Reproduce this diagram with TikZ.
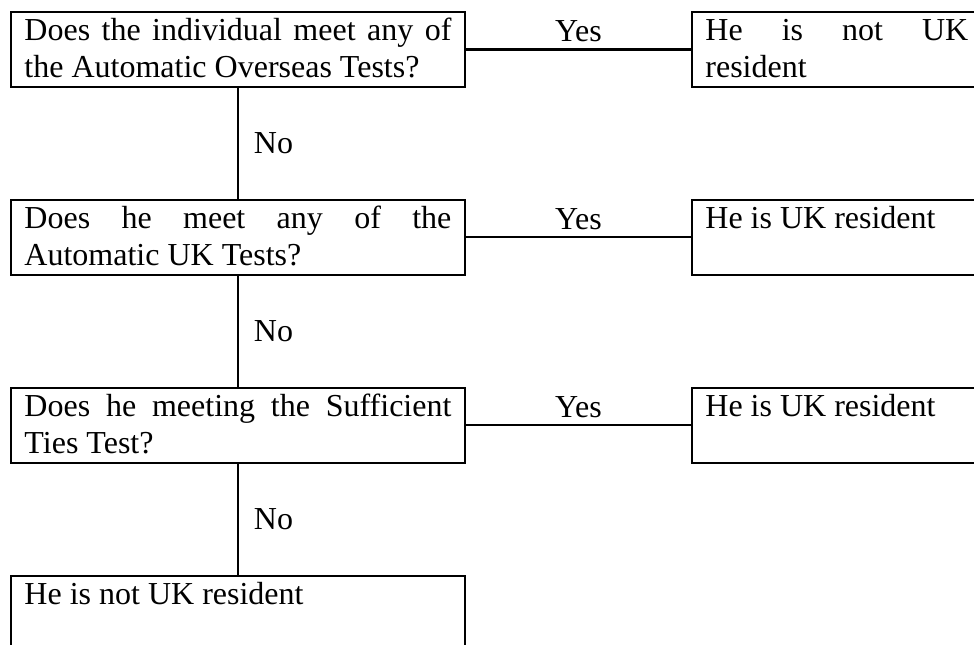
\documentclass[tikz,border=0pt]{standalone}
\usepackage{fontspec}
\setmainfont{Liberation Serif}
\usetikzlibrary{positioning}
\tikzset{
  box_font/.style={font={\fontsize{12}{13.8}\selectfont\hyphenpenalty=10000\tolerance=10000}},
  question_box/.style={rectangle, draw=black, line width=0.8pt, outer sep=0pt, anchor=north west, box_font, inner xsep=5.06pt, inner ysep=0pt, text width=160.1pt, align=justify, text height=10.7pt, text depth=17.4pt},
  answer_box/.style={question_box, text width=98.6pt},
  flow_line/.style={-, line width=0.8pt, black},
  yes_label/.style={midway, anchor=base, yshift=2.85pt, inner sep=0pt, box_font},
  no_label/.style={midway, anchor=west, xshift=5.6pt, inner sep=0pt, box_font}
}

\begin{document}
\begin{tikzpicture}[x=0.375pt, y=-0.375pt]
  % --- page frame (reference size, right boxes run off the edge) ---
  \path[use as bounding box] (0,0) rectangle (974,645);
  \clip (0,0) rectangle (974,645);

  % --- 1. Questions (left column) ---
  \node[question_box] (q1) at (11,12) {Does the individual meet any of\linebreak the Automatic Overseas Tests?};
  \node[question_box, below=42.375pt of q1] (q2) {Does he meet any of the\linebreak Automatic UK Tests?};
  \node[question_box, below=42.375pt of q2] (q3) {Does he meeting the Sufficient\linebreak Ties Test?};
  \node[question_box, below=42.375pt of q3] (q4) {He is not UK resident};

  % --- 2. Outcomes (right column) ---
  \node[answer_box, right=85.125pt of q1] (r1) {He is not UK\linebreak resident};
  \node[answer_box, right=85.125pt of q2] (r2) {He is UK resident};
  \node[answer_box, right=85.125pt of q3] (r3) {He is UK resident};

  % --- 3. Yes branches ---
  \draw[flow_line] (q1) -- (r1) node[yes_label] (yes1) {Yes};
  \draw[flow_line] (q2) -- (r2) node[yes_label] (yes2) {Yes};
  \draw[flow_line] (q3) -- (r3) node[yes_label] (yes3) {Yes};

  % --- 4. No branches ---
  \draw[flow_line] (q1) -- (q2) node[no_label] (no1) {No};
  \draw[flow_line] (q2) -- (q3) node[no_label] (no2) {No};
  \draw[flow_line] (q3) -- (q4) node[no_label] (no3) {No};
\end{tikzpicture}
\end{document}
